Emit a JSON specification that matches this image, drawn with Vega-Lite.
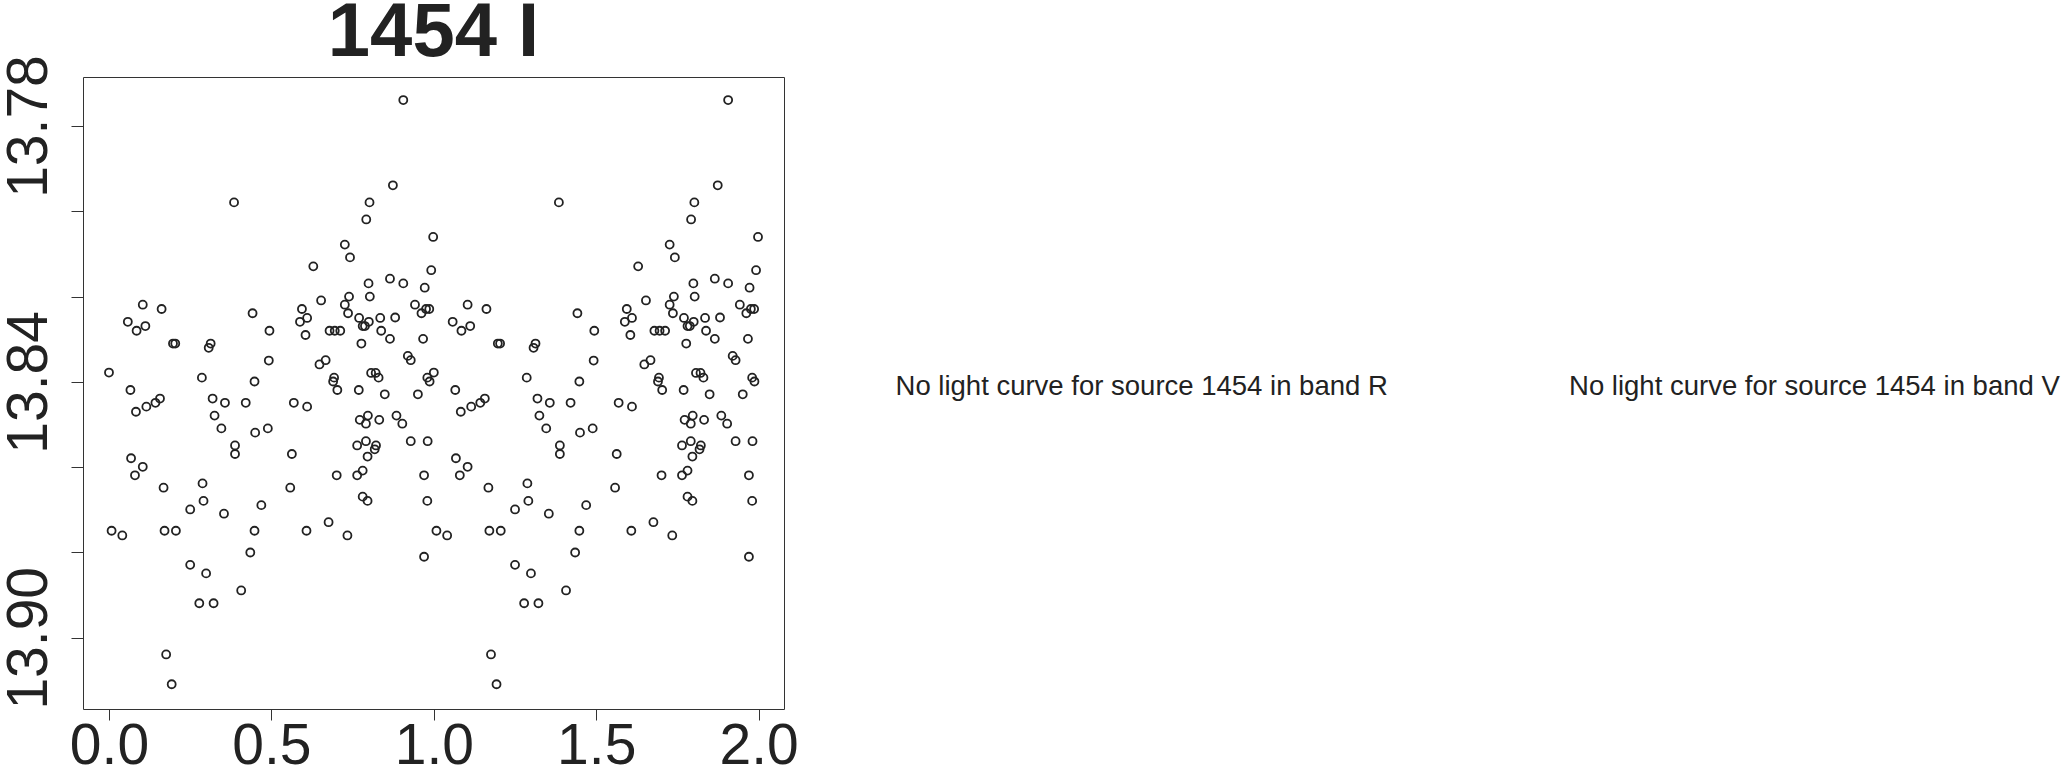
{
  "$schema": "https://vega.github.io/schema/vega-lite/v6.json",
  "width": 701,
  "height": 632,
  "autosize": {"type": "none"},
  "padding": {"left": 83, "top": 77, "right": 1280, "bottom": 56},
  "background": "white",
  "title": {"text": "1454 I", "fontSize": 76, "font": "Liberation Sans", "fontWeight": "bold", "color": "#222222", "anchor": "middle", "offset": 0, "dy": 17, "frame": "group"},
  "config": {
    "view": {"stroke": "#333333", "strokeWidth": 1},
    "axis": {"grid": false, "domain": false, "labelFont": "Liberation Sans", "labelFontSize": 57, "labelColor": "#222222", "tickColor": "#333333", "tickWidth": 1, "labelOverlap": false, "labelFlush": false, "labelBound": false, "title": null}
  },
  "datasets": {
    "lc": [
      {"p":0.385,"m":13.7979},{"p":0.906,"m":13.7739},{"p":0.874,"m":13.7939},{"p":0.802,"m":13.7979},{"p":0.792,"m":13.8019},
      {"p":0.998,"m":13.8060},{"p":0.726,"m":13.8078},{"p":0.742,"m":13.8108},{"p":0.629,"m":13.8129},{"p":0.992,"m":13.8138},
      {"p":0.865,"m":13.8158},{"p":0.799,"m":13.8169},{"p":0.906,"m":13.8169},{"p":0.972,"m":13.8179},{"p":0.653,"m":13.8209},
      {"p":0.739,"m":13.8200},{"p":0.803,"m":13.8200},{"p":0.942,"m":13.8219},{"p":0.104,"m":13.8219},{"p":0.162,"m":13.8229},
      {"p":0.594,"m":13.8229},{"p":0.726,"m":13.8219},{"p":0.736,"m":13.8239},{"p":0.442,"m":13.8239},{"p":0.962,"m":13.8239},
      {"p":0.976,"m":13.8229},{"p":0.986,"m":13.8229},{"p":0.610,"m":13.8250},{"p":0.588,"m":13.8259},{"p":0.058,"m":13.8259},
      {"p":0.770,"m":13.8250},{"p":0.835,"m":13.8250},{"p":0.881,"m":13.8249},{"p":0.112,"m":13.8269},{"p":0.085,"m":13.8280},
      {"p":0.781,"m":13.8269},{"p":0.788,"m":13.8269},{"p":0.800,"m":13.8259},{"p":0.679,"m":13.8280},{"p":0.695,"m":13.8280},
      {"p":0.712,"m":13.8280},{"p":0.838,"m":13.8280},{"p":0.494,"m":13.8280},{"p":0.605,"m":13.8290},{"p":0.197,"m":13.8310},
      {"p":0.204,"m":13.8310},{"p":0.313,"m":13.8310},{"p":0.307,"m":13.8320},{"p":0.777,"m":13.8310},{"p":0.865,"m":13.8299},
      {"p":0.967,"m":13.8299},{"p":0.920,"m":13.8339},{"p":0.929,"m":13.8349},{"p":0.648,"m":13.8359},{"p":0.667,"m":13.8349},
      {"p":0.492,"m":13.8350},{"p":0.000,"m":13.8378},{"p":0.286,"m":13.8390},{"p":0.693,"m":13.8390},{"p":0.690,"m":13.8399},
      {"p":0.807,"m":13.8379},{"p":0.821,"m":13.8379},{"p":0.830,"m":13.8390},{"p":0.980,"m":13.8390},{"p":0.987,"m":13.8399},
      {"p":0.448,"m":13.8399},{"p":0.066,"m":13.8419},{"p":0.703,"m":13.8419},{"p":0.769,"m":13.8419},{"p":0.849,"m":13.8429},
      {"p":0.951,"m":13.8429},{"p":0.083,"m":13.8470},{"p":0.115,"m":13.8458},{"p":0.143,"m":13.8449},{"p":0.157,"m":13.8439},
      {"p":0.319,"m":13.8439},{"p":0.357,"m":13.8449},{"p":0.421,"m":13.8449},{"p":0.569,"m":13.8449},{"p":0.610,"m":13.8458},
      {"p":0.325,"m":13.8479},{"p":0.346,"m":13.8509},{"p":0.450,"m":13.8519},{"p":0.489,"m":13.8509},{"p":0.797,"m":13.8479},
      {"p":0.772,"m":13.8489},{"p":0.832,"m":13.8489},{"p":0.885,"m":13.8479},{"p":0.903,"m":13.8498},{"p":0.791,"m":13.8498},
      {"p":0.388,"m":13.8549},{"p":0.388,"m":13.8569},{"p":0.563,"m":13.8569},{"p":0.764,"m":13.8549},{"p":0.791,"m":13.8539},
      {"p":0.822,"m":13.8549},{"p":0.818,"m":13.8558},{"p":0.796,"m":13.8575},{"p":0.929,"m":13.8539},{"p":0.981,"m":13.8539},
      {"p":0.068,"m":13.8579},{"p":0.104,"m":13.8599},{"p":0.080,"m":13.8619},{"p":0.701,"m":13.8619},{"p":0.764,"m":13.8619},
      {"p":0.781,"m":13.8608},{"p":0.970,"m":13.8619},{"p":0.168,"m":13.8648},{"p":0.288,"m":13.8638},{"p":0.558,"m":13.8648},
      {"p":0.291,"m":13.8679},{"p":0.250,"m":13.8699},{"p":0.354,"m":13.8709},{"p":0.469,"m":13.8689},{"p":0.781,"m":13.8669},
      {"p":0.796,"m":13.8679},{"p":0.980,"m":13.8679},{"p":0.676,"m":13.8729},{"p":0.008,"m":13.8749},{"p":0.041,"m":13.8760},
      {"p":0.171,"m":13.8749},{"p":0.206,"m":13.8749},{"p":0.448,"m":13.8749},{"p":0.608,"m":13.8749},{"p":0.734,"m":13.8760},
      {"p":0.435,"m":13.8800},{"p":0.970,"m":13.8810},{"p":0.250,"m":13.8829},{"p":0.299,"m":13.8849},{"p":0.407,"m":13.8889},
      {"p":0.278,"m":13.8919},{"p":0.322,"m":13.8919},{"p":0.176,"m":13.9039},{"p":0.193,"m":13.9109},
      {"p":1.385,"m":13.7979},{"p":1.906,"m":13.7739},{"p":1.874,"m":13.7939},{"p":1.802,"m":13.7979},{"p":1.792,"m":13.8019},
      {"p":1.998,"m":13.8060},{"p":1.726,"m":13.8078},{"p":1.742,"m":13.8108},{"p":1.629,"m":13.8129},{"p":1.992,"m":13.8138},
      {"p":1.865,"m":13.8158},{"p":1.799,"m":13.8169},{"p":1.906,"m":13.8169},{"p":1.972,"m":13.8179},{"p":1.653,"m":13.8209},
      {"p":1.739,"m":13.8200},{"p":1.803,"m":13.8200},{"p":1.942,"m":13.8219},{"p":1.104,"m":13.8219},{"p":1.162,"m":13.8229},
      {"p":1.594,"m":13.8229},{"p":1.726,"m":13.8219},{"p":1.736,"m":13.8239},{"p":1.442,"m":13.8239},{"p":1.962,"m":13.8239},
      {"p":1.976,"m":13.8229},{"p":1.986,"m":13.8229},{"p":1.610,"m":13.8250},{"p":1.588,"m":13.8259},{"p":1.058,"m":13.8259},
      {"p":1.770,"m":13.8250},{"p":1.835,"m":13.8250},{"p":1.881,"m":13.8249},{"p":1.112,"m":13.8269},{"p":1.085,"m":13.8280},
      {"p":1.781,"m":13.8269},{"p":1.788,"m":13.8269},{"p":1.800,"m":13.8259},{"p":1.679,"m":13.8280},{"p":1.695,"m":13.8280},
      {"p":1.712,"m":13.8280},{"p":1.838,"m":13.8280},{"p":1.494,"m":13.8280},{"p":1.605,"m":13.8290},{"p":1.197,"m":13.8310},
      {"p":1.204,"m":13.8310},{"p":1.313,"m":13.8310},{"p":1.307,"m":13.8320},{"p":1.777,"m":13.8310},{"p":1.865,"m":13.8299},
      {"p":1.967,"m":13.8299},{"p":1.920,"m":13.8339},{"p":1.929,"m":13.8349},{"p":1.648,"m":13.8359},{"p":1.667,"m":13.8349},
      {"p":1.492,"m":13.8350},{"p":1.000,"m":13.8378},{"p":1.286,"m":13.8390},{"p":1.693,"m":13.8390},{"p":1.690,"m":13.8399},
      {"p":1.807,"m":13.8379},{"p":1.821,"m":13.8379},{"p":1.830,"m":13.8390},{"p":1.980,"m":13.8390},{"p":1.987,"m":13.8399},
      {"p":1.448,"m":13.8399},{"p":1.066,"m":13.8419},{"p":1.703,"m":13.8419},{"p":1.769,"m":13.8419},{"p":1.849,"m":13.8429},
      {"p":1.951,"m":13.8429},{"p":1.083,"m":13.8470},{"p":1.115,"m":13.8458},{"p":1.143,"m":13.8449},{"p":1.157,"m":13.8439},
      {"p":1.319,"m":13.8439},{"p":1.357,"m":13.8449},{"p":1.421,"m":13.8449},{"p":1.569,"m":13.8449},{"p":1.610,"m":13.8458},
      {"p":1.325,"m":13.8479},{"p":1.346,"m":13.8509},{"p":1.450,"m":13.8519},{"p":1.489,"m":13.8509},{"p":1.797,"m":13.8479},
      {"p":1.772,"m":13.8489},{"p":1.832,"m":13.8489},{"p":1.885,"m":13.8479},{"p":1.903,"m":13.8498},{"p":1.791,"m":13.8498},
      {"p":1.388,"m":13.8549},{"p":1.388,"m":13.8569},{"p":1.563,"m":13.8569},{"p":1.764,"m":13.8549},{"p":1.791,"m":13.8539},
      {"p":1.822,"m":13.8549},{"p":1.818,"m":13.8558},{"p":1.796,"m":13.8575},{"p":1.929,"m":13.8539},{"p":1.981,"m":13.8539},
      {"p":1.068,"m":13.8579},{"p":1.104,"m":13.8599},{"p":1.080,"m":13.8619},{"p":1.701,"m":13.8619},{"p":1.764,"m":13.8619},
      {"p":1.781,"m":13.8608},{"p":1.970,"m":13.8619},{"p":1.168,"m":13.8648},{"p":1.288,"m":13.8638},{"p":1.558,"m":13.8648},
      {"p":1.291,"m":13.8679},{"p":1.250,"m":13.8699},{"p":1.354,"m":13.8709},{"p":1.469,"m":13.8689},{"p":1.781,"m":13.8669},
      {"p":1.796,"m":13.8679},{"p":1.980,"m":13.8679},{"p":1.676,"m":13.8729},{"p":1.008,"m":13.8749},{"p":1.041,"m":13.8760},
      {"p":1.171,"m":13.8749},{"p":1.206,"m":13.8749},{"p":1.448,"m":13.8749},{"p":1.608,"m":13.8749},{"p":1.734,"m":13.8760},
      {"p":1.435,"m":13.8800},{"p":1.970,"m":13.8810},{"p":1.250,"m":13.8829},{"p":1.299,"m":13.8849},{"p":1.407,"m":13.8889},
      {"p":1.278,"m":13.8919},{"p":1.322,"m":13.8919},{"p":1.176,"m":13.9039},{"p":1.193,"m":13.9109}
    ],
    "notes": [
      {"t": "No light curve for source 1454 in band R", "p": 3.179, "m": 13.8413},
      {"t": "No light curve for source 1454 in band V", "p": 5.250, "m": 13.8413}
    ]
  },
  "layer": [
    {
      "data": {"name": "lc"},
      "mark": {"type": "point", "shape": "circle", "filled": false, "stroke": "#222222", "strokeWidth": 1.8, "size": 64, "opacity": 1},
      "encoding": {
        "x": {"field": "p", "type": "quantitative", "scale": {"domain": [-0.08, 2.078], "nice": false, "zero": false},
              "axis": {"values": [0, 0.5, 1, 1.5, 2], "format": ".1f", "tickSize": 11, "labelPadding": 43, "labelBaseline": "alphabetic", "labelAlign": "center"}},
        "y": {"field": "m", "type": "quantitative", "scale": {"domain": [13.7685, 13.9167], "reverse": true, "nice": false, "zero": false},
              "axis": {"values": [13.78, 13.80, 13.82, 13.84, 13.86, 13.88, 13.90], "tickSize": 12, "labelPadding": 25, "labelAngle": -90, "labelAlign": "center", "labelBaseline": "alphabetic",
                       "labelExpr": "(abs(datum.value-13.78)<0.001 || abs(datum.value-13.84)<0.001 || abs(datum.value-13.90)<0.001) ? format(datum.value, '.2f') : ''"}}
      }
    },
    {
      "data": {"name": "notes"},
      "mark": {"type": "text", "font": "Liberation Sans", "fontSize": 27.5, "color": "#222222", "align": "center", "baseline": "middle"},
      "encoding": {
        "x": {"field": "p", "type": "quantitative", "scale": {"domain": [-0.08, 2.078], "nice": false, "zero": false}},
        "y": {"field": "m", "type": "quantitative", "scale": {"domain": [13.7685, 13.9167], "reverse": true, "nice": false, "zero": false}},
        "text": {"field": "t"}
      }
    }
  ]
}
